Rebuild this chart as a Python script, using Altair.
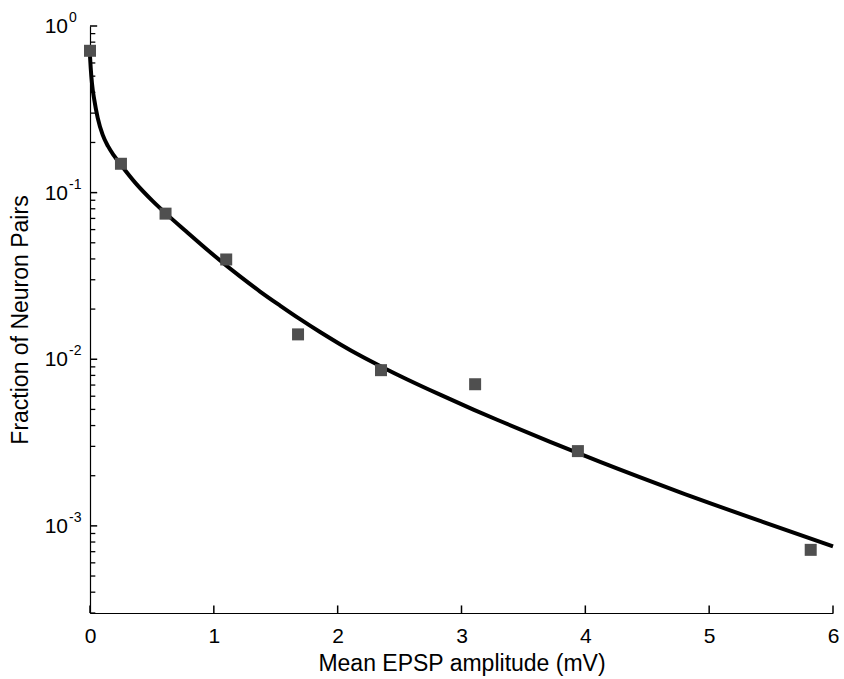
import altair as alt
import pandas as pd

# Measured data (squares)
epsp_x = [0.0, 0.25, 0.61, 1.10, 1.68, 2.35, 3.11, 3.94, 5.82]
frac_y = [0.71, 0.149, 0.0748, 0.0397, 0.0141, 0.0086, 0.00708, 0.00281, 0.000718]

# Fitted curve
fit_x = [0.0, 0.0057, 0.0162, 0.0347, 0.0622, 0.1026, 0.1454, 0.1939, 0.2504, 0.3716,
         0.5065, 0.6139, 0.7754, 0.9637, 1.2116, 1.3732, 1.5347, 1.6963, 1.8578, 2.0194,
         2.1809, 2.3691, 2.5582, 2.8271, 3.0961, 3.3118, 3.7157, 4.1195, 4.7658, 5.4120, 6.0]
fit_y = [0.66, 0.560, 0.451, 0.360, 0.281, 0.222, 0.190, 0.1666, 0.1465, 0.1132,
         0.0889, 0.0748, 0.0586, 0.0443, 0.0314, 0.0255, 0.0210, 0.0174, 0.01456, 0.01231,
         0.01052, 0.00890, 0.00759, 0.00613, 0.00499, 0.00426, 0.00319, 0.00242, 0.00159, 0.00107, 0.000754]

x_ticks = [0, 1, 2, 3, 4, 5, 6]
y_major = [0.001, 0.01, 0.1, 1.0]
y_exp = ["-3", "-2", "-1", "0"]
y_minor = [0.0003, 0.0004, 0.0005, 0.0006, 0.0007, 0.0008, 0.0009,
           0.002, 0.003, 0.004, 0.005, 0.006, 0.007, 0.008, 0.009,
           0.02, 0.03, 0.04, 0.05, 0.06, 0.07, 0.08, 0.09,
           0.2, 0.3, 0.4, 0.5, 0.6, 0.7, 0.8, 0.9]

W, H = 743, 587
FONT = "Liberation Sans"

pts = pd.DataFrame({"x": epsp_x, "y": frac_y})
fit = pd.DataFrame({"x": fit_x, "y": fit_y})
xt = pd.DataFrame({"x": x_ticks})
ymaj = pd.DataFrame({"y": y_major, "e": y_exp})
ymin = pd.DataFrame({"y": y_minor})

xscale = alt.Scale(domain=[0, 6], nice=False, zero=False)
yscale = alt.Scale(type="log", domain=[0.0003, 1], nice=False)

xaxis = alt.Axis(values=x_ticks, format="d", ticks=False, grid=False, labelFontSize=21,
                 labelPadding=12, labelFont=FONT, labelColor="black", labelFlush=False,
                 title="Mean EPSP amplitude (mV)", titleFont=FONT, titleFontSize=23,
                 titleFontWeight="normal", titleColor="black",
                 titleBaseline="middle", titleY=50,
                 domainColor="black", domainWidth=1.2)
yaxis = alt.Axis(values=y_major, labels=False, ticks=False, grid=False,
                 title="Fraction of Neuron Pairs", titleFont=FONT, titleFontSize=23,
                 titleFontWeight="normal", titleColor="black",
                 titleBaseline="middle", titleX=-70,
                 domainColor="black", domainWidth=1.2)

line = alt.Chart(fit).mark_line(color="black", strokeWidth=4, interpolate="monotone").encode(
    x=alt.X("x:Q", scale=xscale, axis=xaxis),
    y=alt.Y("y:Q", scale=yscale, axis=yaxis),
)

squares = alt.Chart(pts).mark_square(color="#4f4f4f", size=144, opacity=1).encode(
    x=alt.X("x:Q", scale=xscale),
    y=alt.Y("y:Q", scale=yscale),
)

# inward tick marks (lengths: ~7 px major, ~5 px minor)
xtick_marks = alt.Chart(xt).mark_rule(color="black", strokeWidth=1.5).encode(
    x=alt.X("x:Q", scale=xscale),
    y=alt.datum(0.0003, scale=yscale),
    y2=alt.datum(0.000333),
)
ymaj_marks = alt.Chart(ymaj).mark_rule(color="black", strokeWidth=1.5).encode(
    y=alt.Y("y:Q", scale=yscale),
    x=alt.datum(0, scale=xscale),
    x2=alt.datum(0.058),
)
ymin_marks = alt.Chart(ymin).mark_rule(color="black", strokeWidth=1.3).encode(
    y=alt.Y("y:Q", scale=yscale),
    x=alt.datum(0, scale=xscale),
    x2=alt.datum(0.043),
)

lab10 = alt.Chart(ymaj).mark_text(align="right", baseline="middle", fontSize=21,
                                   font=FONT, color="black", dy=1).encode(
    y=alt.Y("y:Q", scale=yscale),
    x=alt.value(-22),
    text=alt.value("10"),
)
labexp = alt.Chart(ymaj).mark_text(align="left", baseline="middle", fontSize=14,
                                    font=FONT, color="black", dy=-8).encode(
    y=alt.Y("y:Q", scale=yscale),
    x=alt.value(-21),
    text="e:N",
)

chart = alt.layer(xtick_marks, ymaj_marks, ymin_marks, line, squares, lab10, labexp).properties(
    width=W, height=H,
    autosize=alt.AutoSizeParams(type="none"),
    padding={"left": 90, "top": 26, "right": 11, "bottom": 66},
    background="white",
).configure_view(stroke=None)

chart.save("out.html", embed_options={"renderer": "svg", "actions": False})
